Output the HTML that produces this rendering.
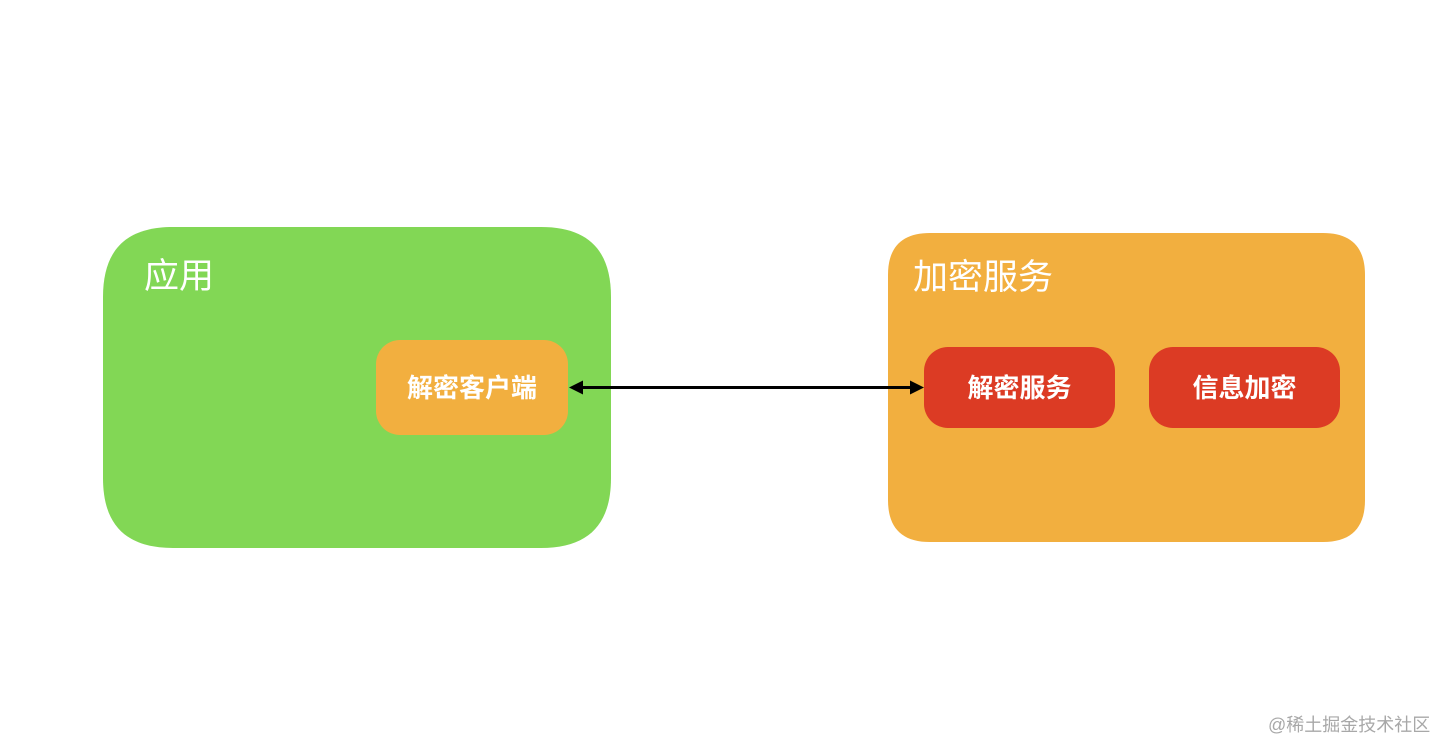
<!DOCTYPE html>
<html lang="zh">
<head>
<meta charset="utf-8">
<style>
html,body{margin:0;padding:0;background:#fff;}
#c{position:relative;width:1450px;height:756px;overflow:hidden;background:#fff;font-family:"Liberation Sans","Noto Sans CJK SC",sans-serif;}
.b{position:absolute;box-sizing:border-box;}
.t{position:absolute;white-space:nowrap;color:#fff;line-height:1;}
.c{display:flex;align-items:center;justify-content:center;color:#fff;font-weight:700;font-size:26px;white-space:nowrap;padding-bottom:2px;}
svg{position:absolute;left:0;top:0;}
</style>
</head>
<body>
<div id="c">
  <svg width="1450" height="756" viewBox="0 0 1450 756">
    <path d="M173 227H541C588 227 611 250 611 297V478C611 525 588 548 541 548H173C126 548 103 525 103 478V297C103 250 126 227 173 227Z" fill="#82d755"/>
    <path d="M930 233H1323C1351 233 1365 247 1365 275V500C1365 528 1351 542 1323 542H930C902 542 888 528 888 500V275C888 247 902 233 930 233Z" fill="#f2af3f"/>
  </svg>
  <div class="t" style="left:144px;top:259px;font-size:35px;">应用</div>
  <div class="b c" style="left:376px;top:340px;width:192px;height:95px;background:#f2af3f;border-radius:24px;">解密客户端</div>

  <div class="t" style="left:913px;top:260px;font-size:35px;">加密服务</div>
  <div class="b c" style="left:924px;top:347px;width:191px;height:81px;background:#dc3b24;border-radius:24px;">解密服务</div>
  <div class="b c" style="left:1149px;top:347px;width:191px;height:81px;background:#dc3b24;border-radius:24px;">信息加密</div>

  <svg width="1450" height="756" viewBox="0 0 1450 756">
    <rect x="580" y="386" width="332" height="3" fill="#000"/>
    <polygon points="569,387.5 583,380.5 583,394.5" fill="#000"/>
    <polygon points="924,387.5 910,380.5 910,394.5" fill="#000"/>
  </svg>

  <div class="t" style="left:1268px;top:716px;font-size:18px;color:#a8a8a8;filter:blur(0.3px);">@稀土掘金技术社区</div>
</div>
</body>
</html>
